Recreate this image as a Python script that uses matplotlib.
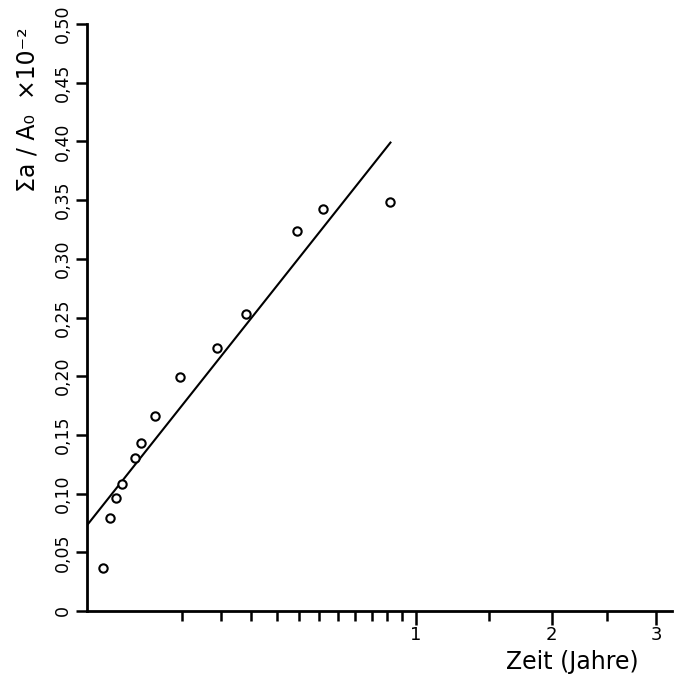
import numpy as np
import matplotlib
matplotlib.use('Agg')
import matplotlib.pyplot as plt
from matplotlib.ticker import FixedLocator, FixedFormatter

# Messwerte (Zeit in Jahren, Sigma a / A0 x 10^-2)
zeit = [0.0024, 0.0049, 0.0078, 0.0113, 0.0213, 0.0270, 0.0428,
        0.0800, 0.156, 0.234, 0.408, 0.517, 0.848]
wert = [0.037, 0.079, 0.096, 0.108, 0.130, 0.143, 0.166,
        0.199, 0.224, 0.253, 0.324, 0.342, 0.348]

# Ausgleichsgerade (gerade in sqrt(t))
zeit_fit = [0.0, 0.853]
wert_fit = [0.073, 0.399]

y_ticks = [0, 0.05, 0.10, 0.15, 0.20, 0.25, 0.30, 0.35, 0.40, 0.45, 0.50]
y_labels = ['0', '0,05', '0,10', '0,15', '0,20', '0,25', '0,30', '0,35', '0,40', '0,45', '0,50']
x_ticks = [1, 2, 3]
x_labels = ['1', '2', '3']
monate = [1, 2, 3, 4, 5, 7, 8, 9, 10, 11]
halbe = [0.5, 1.5, 2.5]

plt.rcParams['font.family'] = ['DejaVu Sans']

fig = plt.figure(figsize=(6.77, 6.75), dpi=100)
ax = fig.add_axes([87 / 677, 1 - 611 / 675, 585 / 677, 587 / 675])

ax.set_xscale('function', functions=(lambda x: np.sqrt(np.clip(x, 0, None)), np.square))
ax.set_xlim(0, 3.17)
ax.set_ylim(0, 0.5)

ax.plot(zeit_fit, wert_fit, color='black', lw=1.5)
ax.plot(zeit, wert, 'o', mfc='white', mec='black', ms=6, mew=1.5, clip_on=False)

for s in ['top', 'right']:
    ax.spines[s].set_visible(False)
for s in ['left', 'bottom']:
    ax.spines[s].set_linewidth(2)

ax.yaxis.set_major_locator(FixedLocator(y_ticks))
ax.yaxis.set_major_formatter(FixedFormatter(y_labels))
ax.tick_params(axis='y', length=8, width=1.8, labelsize=12.5, labelrotation=90, pad=3)
for lab in ax.get_yticklabels():
    lab.set_va('center')

ax.xaxis.set_major_locator(FixedLocator(x_ticks))
ax.xaxis.set_major_formatter(FixedFormatter(x_labels))
ax.xaxis.set_minor_locator(FixedLocator([m / 12 for m in monate] + halbe))
ax.tick_params(axis='x', which='major', length=10, width=1.8, labelsize=13, pad=1)
ax.tick_params(axis='x', which='minor', length=7, width=1.8)

fig.text(28 / 677, 1 - 110 / 675, 'Σa / A₀  ×10⁻²', rotation=90, fontsize=17,
         ha='center', va='center')
fig.text(572 / 677, 1 - 662 / 675, 'Zeit (Jahre)', fontsize=17, ha='center', va='center')

fig.savefig('out.png', dpi=100)
